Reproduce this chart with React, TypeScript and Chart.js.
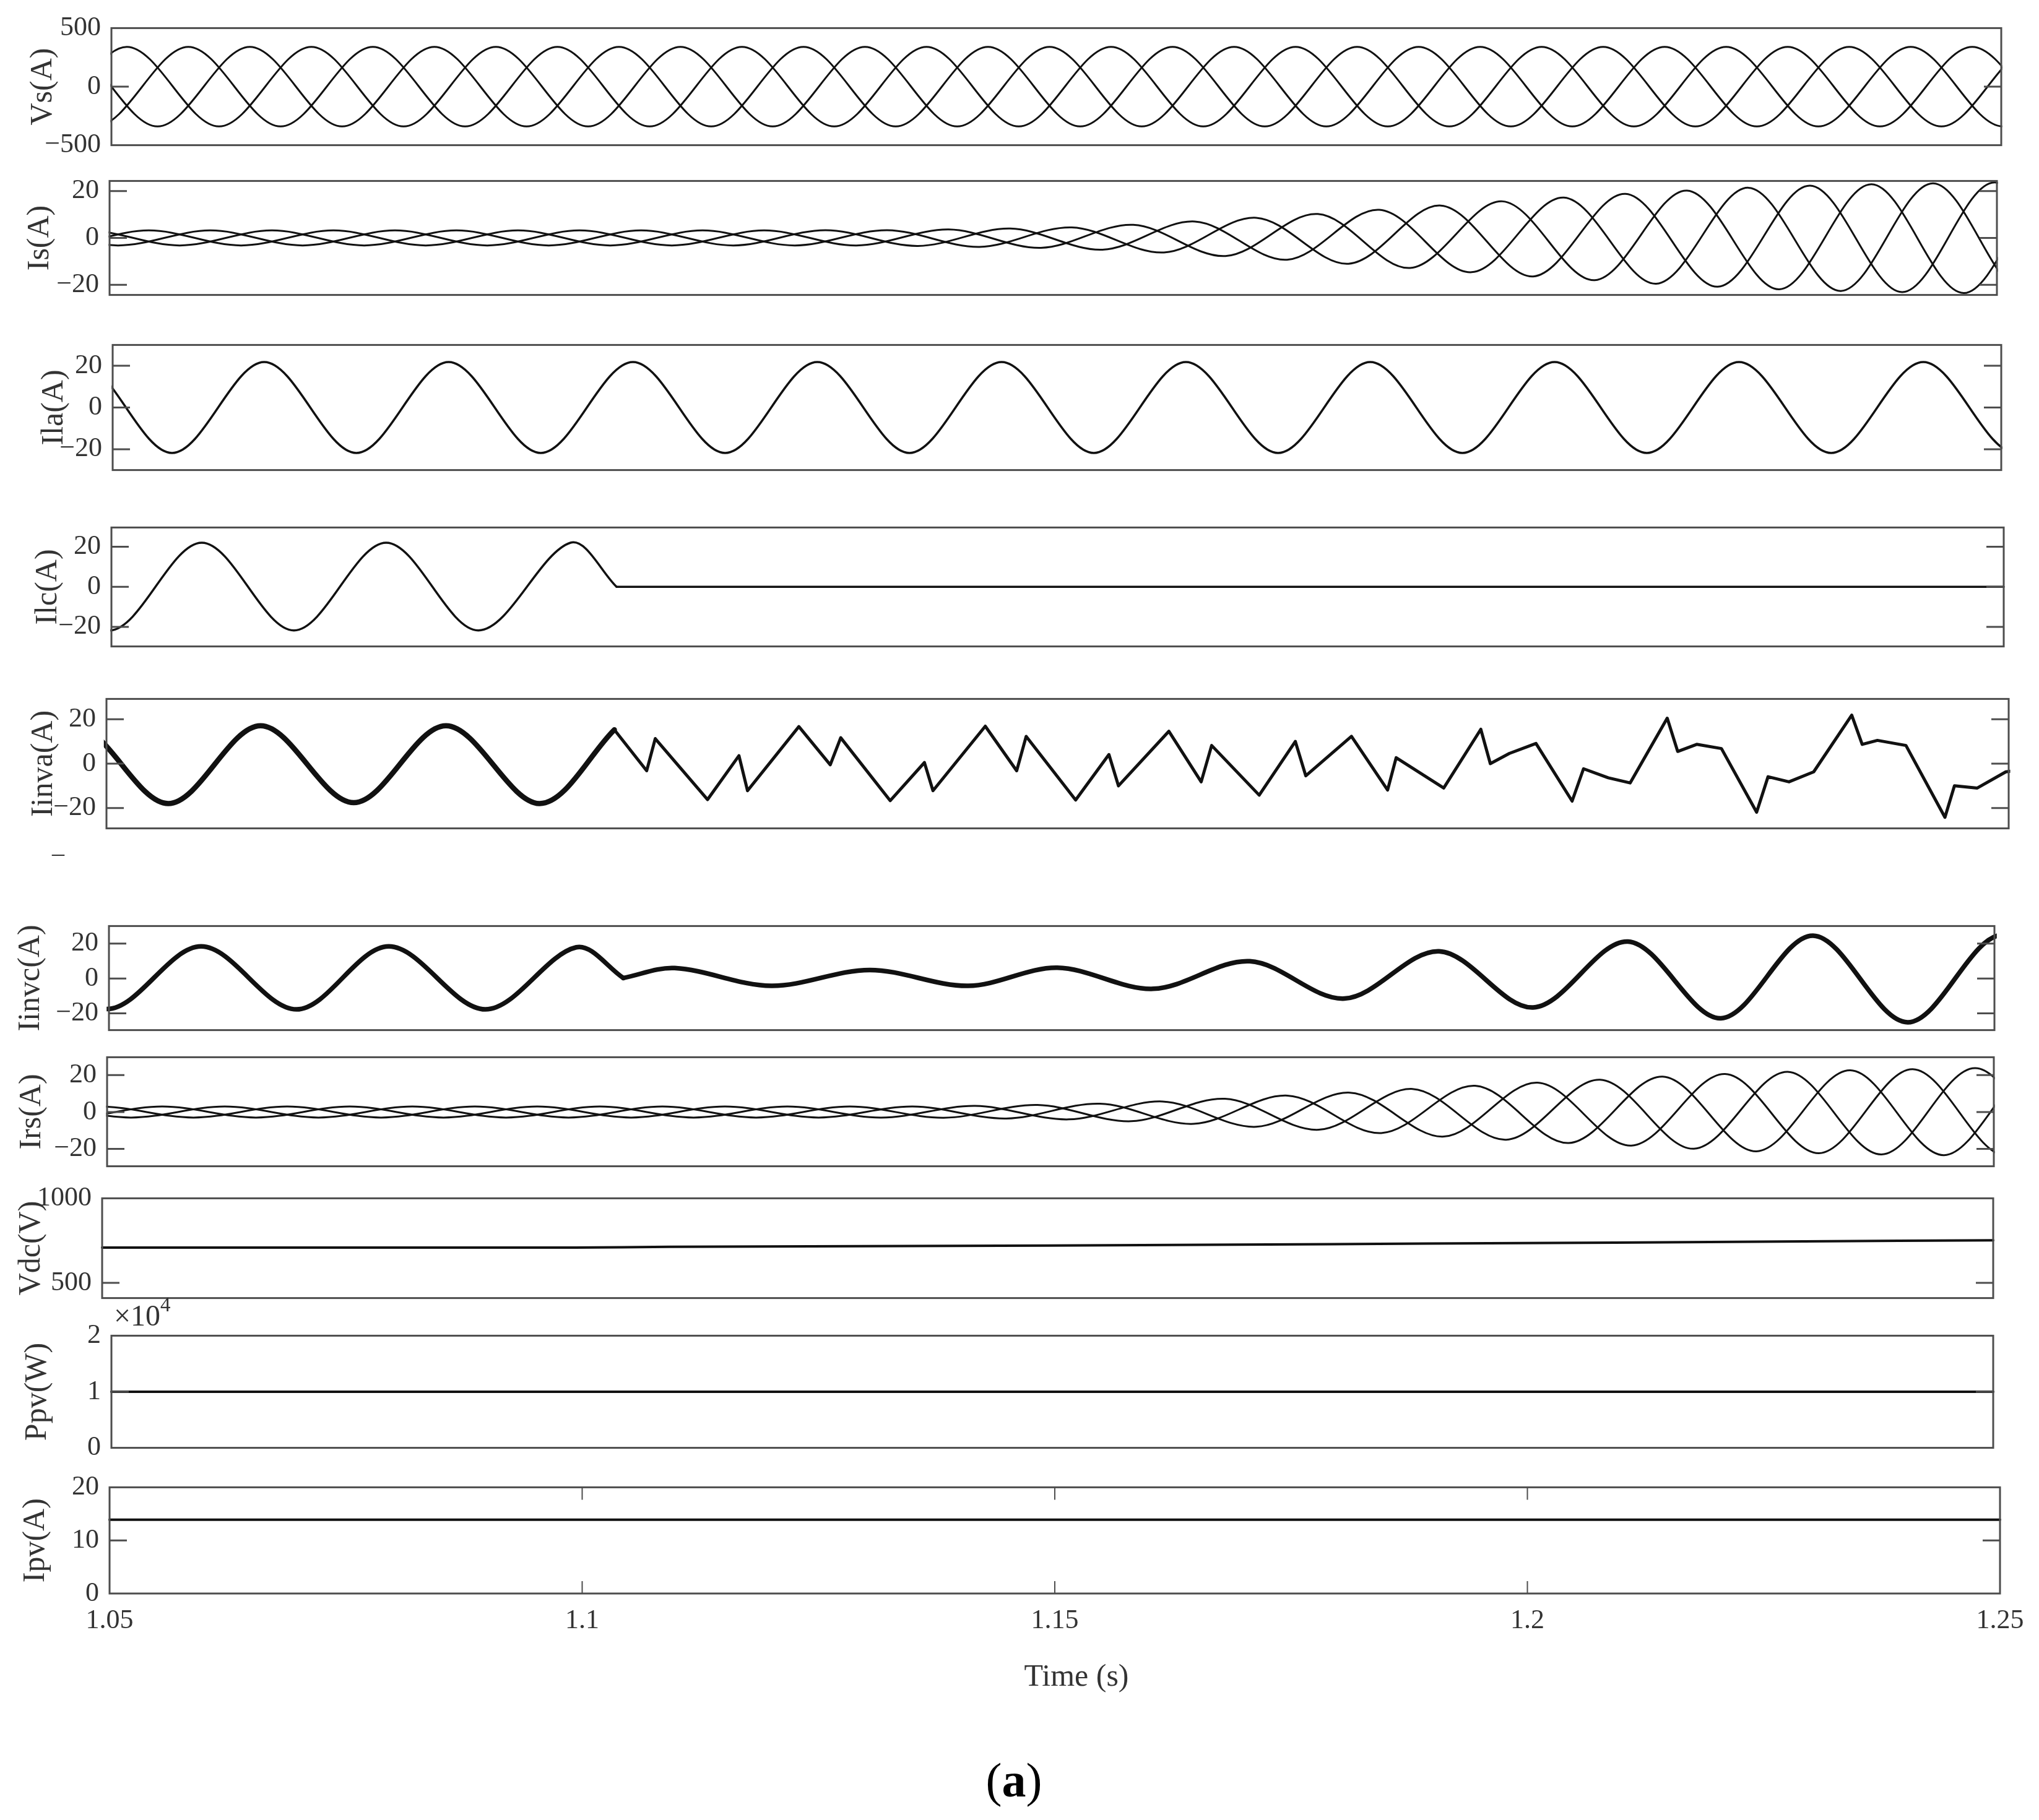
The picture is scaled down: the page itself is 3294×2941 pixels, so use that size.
import React, { useEffect, useRef } from "react";
import { Chart, registerables } from "chart.js";
Chart.register(...registerables);

const FONT = "'Liberation Serif', 'Times New Roman', serif";
const PAGE_W = 3294;
const PAGE_H = 2941;

// ---------------- data (time in s) ----------------
const timeTicks = [1.05, 1.1, 1.15, 1.2, 1.25];

// Vs : three phases, peaks / troughs
const vsTicks = [-500, 0, 500];
const vsAT = [1.03535, 1.04512, 1.05488, 1.06465, 1.07441, 1.08418, 1.09394, 1.10371, 1.11347, 1.12324, 1.133, 1.14277, 1.15253, 1.1623, 1.17206, 1.18183, 1.19159, 1.20136, 1.21112, 1.22089, 1.23065, 1.24042, 1.25018, 1.25995];
const vsAV = [-340, 340, -340, 340, -340, 340, -340, 340, -340, 340, -340, 340, -340, 340, -340, 340, -340, 340, -340, 340, -340, 340, -340, 340];
const vsBT = [1.0386, 1.04837, 1.05814, 1.0679, 1.07767, 1.08743, 1.0972, 1.10696, 1.11673, 1.12649, 1.13626, 1.14602, 1.15579, 1.16555, 1.17532, 1.18508, 1.19485, 1.20461, 1.21438, 1.22414, 1.23391, 1.24367, 1.25344, 1.26321];
const vsBV = [340, -340, 340, -340, 340, -340, 340, -340, 340, -340, 340, -340, 340, -340, 340, -340, 340, -340, 340, -340, 340, -340, 340, -340];
const vsCT = [1.03209, 1.04186, 1.05163, 1.06139, 1.07116, 1.08092, 1.09069, 1.10045, 1.11022, 1.11998, 1.12975, 1.13951, 1.14928, 1.15904, 1.16881, 1.17857, 1.18834, 1.1981, 1.20787, 1.21763, 1.2274, 1.23716, 1.24693, 1.25669, 1.26646];
const vsCV = [340, -340, 340, -340, 340, -340, 340, -340, 340, -340, 340, -340, 340, -340, 340, -340, 340, -340, 340, -340, 340, -340, 340, -340, 340];

// Is : three phases, growing envelope
const iTicks = [-20, 0, 20];
const isAT = [1.03786, 1.04764, 1.05742, 1.0672, 1.07698, 1.08676, 1.09654, 1.10632, 1.1161, 1.12588, 1.13566, 1.14544, 1.15522, 1.165, 1.17478, 1.18456, 1.19434, 1.20412, 1.2139, 1.22368, 1.23346, 1.24324, 1.25302, 1.2628];
const isAV = [-3.2, 3.2, -3.2, 3.2, -3.2, 3.2, -3.2, 3.2, -3.2, 3.3, -3.4, 4.0, -5.0, 7.0, -9.3, 12.0, -14.6, 17.2, -19.5, 21.4, -22.6, 23.3, -23.8, 24];
const isBT = [1.0346, 1.04438, 1.05416, 1.06394, 1.07372, 1.0835, 1.09328, 1.10306, 1.11284, 1.12262, 1.1324, 1.14218, 1.15196, 1.16174, 1.17152, 1.1813, 1.19108, 1.20086, 1.21064, 1.22042, 1.2302, 1.23998, 1.24976, 1.25954, 1.26932];
const isBV = [3.2, -3.2, 3.2, -3.2, 3.2, -3.2, 3.2, -3.2, 3.2, -3.2, 3.3, -3.8, 4.5, -6.2, 8.6, -11.0, 13.8, -16.4, 18.8, -20.8, 22.3, -23.1, 23.7, -23.8, 24];
const isCT = [1.03134, 1.04112, 1.0509, 1.06068, 1.07046, 1.08024, 1.09002, 1.0998, 1.10958, 1.11936, 1.12914, 1.13892, 1.1487, 1.15848, 1.16826, 1.17804, 1.18782, 1.1976, 1.20738, 1.21716, 1.22694, 1.23672, 1.2465, 1.25628, 1.26606];
const isCV = [-3.2, 3.2, -3.2, 3.2, -3.2, 3.2, -3.2, 3.2, -3.2, 3.2, -3.2, 3.6, -4.2, 5.6, -7.7, 10.2, -12.8, 15.6, -18.0, 20.2, -21.9, 22.9, -23.5, 23.8, -24];

// Ila
const ilaT = [1.03677, 1.04653, 1.05629, 1.06605, 1.07581, 1.08558, 1.09534, 1.1051, 1.11486, 1.12462, 1.13438, 1.14414, 1.1539, 1.16366, 1.17342, 1.18318, 1.19294, 1.2027, 1.21247, 1.22223, 1.23199, 1.24175, 1.25151, 1.26127];
const ilaV = [-21.8, 21.8, -21.8, 21.8, -21.8, 21.8, -21.8, 21.8, -21.8, 21.8, -21.8, 21.8, -21.8, 21.8, -21.8, 21.8, -21.8, 21.8, -21.8, 21.8, -21.8, 21.8, -21.8, 21.8];

// Ilc
const ilcT = [1.04006, 1.0498, 1.05955, 1.06929, 1.07904, 1.08878, 1.09852, 1.10339];
const ilcV = [22, -21.8, 22, -21.8, 22, -21.8, 22, 0];
const ilcFlatT = [1.10339, 1.25];
const ilcFlatV = [0, 0];

// Iinva
const iinvaSmoothT = [1.03696, 1.04673, 1.0565, 1.0662, 1.076, 1.0857, 1.0955, 1.1034];
const iinvaSmoothV = [-18, 17, -18, 17.1, -17.6, 17.1, -18, 15.3];
const iinvaT = [1.1034, 1.1068, 1.1077, 1.1132, 1.1165, 1.1174, 1.1228, 1.1261, 1.1272, 1.1324, 1.136, 1.1369, 1.1424, 1.1457, 1.1467, 1.1519, 1.1554, 1.1564, 1.1617, 1.1651, 1.1662, 1.1712, 1.175, 1.1761, 1.1809, 1.1847, 1.1856, 1.1906, 1.1945, 1.1955, 1.1975, 1.2003, 1.2041, 1.2053, 1.2079, 1.2102, 1.2141, 1.2152, 1.2172, 1.2198, 1.2235, 1.2247, 1.2269, 1.2295, 1.2335, 1.2346, 1.2362, 1.2392, 1.2433, 1.2443, 1.2467, 1.2497, 1.251];
const iinvaV = [15.3, -3.2, 11.3, -16.2, 3.6, -12.2, 16.7, -0.5, 11.7, -16.7, 0.5, -12.2, 16.9, -3.2, 12.3, -16.4, 4.1, -10, 14.6, -8.2, 8.2, -14.2, 10, -5.5, 12.3, -11.9, 2.7, -11, 15.5, 0, 4.6, 9.1, -16.9, -2.3, -6.4, -8.7, 20.5, 5.5, 8.7, 6.8, -21.9, -5.9, -8.2, -3.7, 21.9, 8.7, 10.5, 8.2, -24.2, -10, -11, -3.7, -3];

// Iinvc
const iinvc1T = [1.04, 1.0498, 1.05978, 1.0699, 1.07968, 1.08992, 1.09957, 1.10456];
const iinvc1V = [18, -17.5, 18.4, -17.7, 18.4, -17.7, 17.9, 0.3];
const iinvc2T = [1.10456, 1.11001, 1.12026, 1.1307, 1.14114, 1.15059, 1.16077, 1.17101, 1.18106, 1.1911, 1.20108, 1.21113, 1.22098, 1.23076, 1.24081, 1.25085, 1.2609];
const iinvc2V = [0.3, 6, -4.2, 4.9, -4.2, 6.2, -5.9, 9.9, -11.5, 15.6, -16.6, 21.2, -22.8, 24.6, -25.1, 25, -25];

// Irs
const irsAT = [1.03927, 1.04921, 1.05915, 1.06909, 1.07904, 1.08898, 1.09892, 1.10886, 1.1188, 1.12874, 1.13868, 1.14862, 1.15856, 1.1685, 1.17845, 1.18839, 1.19833, 1.20827, 1.21821, 1.22815, 1.23809, 1.24803, 1.25797, 1.26791];
const irsAV = [-3, 3, -3, 3, -3, 3, -3, 3, -3, 3, -3.1, 3.8, -5.0, 7.2, -9.6, 12.5, -15.0, 17.5, -19.9, 21.8, -23.0, 23.8, -24, 24];
const irsBT = [1.03596, 1.0459, 1.05584, 1.06578, 1.07572, 1.08566, 1.0956, 1.10555, 1.11549, 1.12543, 1.13537, 1.14531, 1.15525, 1.16519, 1.17513, 1.18507, 1.19501, 1.20495, 1.2149, 1.22484, 1.23478, 1.24472, 1.25466, 1.2646];
const irsBV = [3, -3, 3, -3, 3, -3, 3, -3, 3, -3, 3.0, -3.5, 4.5, -6.4, 8.9, -11.4, 14.2, -16.8, 19.2, -21.3, 22.6, -23.4, 24, -24];
const irsCT = [1.03265, 1.04259, 1.05253, 1.06247, 1.07241, 1.08235, 1.09229, 1.10223, 1.11217, 1.12211, 1.13205, 1.142, 1.15194, 1.16188, 1.17182, 1.18176, 1.1917, 1.20164, 1.21158, 1.22152, 1.23146, 1.2414, 1.25135, 1.26129];
const irsCV = [-3, 3, -3, 3, -3, 3, -3, 3, -3, 3, -3.0, 3.3, -4.0, 5.7, -8.0, 10.5, -13.3, 15.9, -18.2, 20.6, -22.3, 23.2, -23.8, 24];

// Vdc
const vdcTicks = [500, 1000];
const vdcT = [1.05, 1.1, 1.11, 1.13, 1.15, 1.17, 1.19, 1.21, 1.23, 1.25];
const vdcV = [709, 709, 713, 717, 721, 726, 732, 738, 745, 752];

// Ppv (x1e4) and Ipv
const ppvTicks = [0, 1, 2];
const ppvT = [1.05, 1.25];
const ppvV = [1, 1];
const ipvTicks = [0, 10, 20];
const ipvT = [1.05, 1.25];
const ipvV = [13.9, 13.9];

// ---------------- helpers ----------------
type Series = { t: number[]; v: number[]; tension: number; width: number };
type PanelCfg = {
  title: string; L: number; R: number; T: number; B: number; titleX: number;
  yMin: number; yMax: number; yTicks: number[]; series: Series[]; xAxis?: boolean;
};

const pts = (t: number[], v: number[]) => t.map((x, i) => ({ x, y: v[i] }));
const fmt = (v: number) => String(v).replace("-", "\u2212");

const framePlugin = {
  id: "panelFrame",
  afterDatasetsDraw(chart: any, _args: any, opts: any) {
    const { ctx, chartArea } = chart;
    const { left, right, top, bottom } = chartArea;
    ctx.save();
    ctx.strokeStyle = "#4d4d4d";
    ctx.lineWidth = 3;
    ctx.strokeRect(left, top, right - left, bottom - top);
    const y = chart.scales.y;
    ctx.beginPath();
    y.ticks.forEach((tk: any) => {
      const py = y.getPixelForValue(tk.value);
      if (py > top + 3 && py < bottom - 3) {
        ctx.moveTo(left, py); ctx.lineTo(left + 28, py);
        ctx.moveTo(right - 28, py); ctx.lineTo(right, py);
      }
    });
    ctx.stroke();
    if (opts && opts.xTicks) {
      const x = chart.scales.x;
      ctx.lineWidth = 2;
      ctx.beginPath();
      x.ticks.forEach((tk: any) => {
        const px = x.getPixelForValue(tk.value);
        if (px > left + 3 && px < right - 3) {
          ctx.moveTo(px, top); ctx.lineTo(px, top + 20);
          ctx.moveTo(px, bottom); ctx.lineTo(px, bottom - 20);
        }
      });
      ctx.stroke();
    }
    ctx.restore();
  },
};

function Panel(p: PanelCfg) {
  const ref = useRef<HTMLCanvasElement>(null);
  const padTop = 40;
  const padBottom = p.xAxis ? 0 : 40;
  const xH = p.xAxis ? 90 : 0;
  const canvasH = p.B - p.T + padTop + padBottom + xH;
  const padLeft = p.titleX - 30;
  useEffect(() => {
    const chart = new Chart(ref.current as HTMLCanvasElement, {
      type: "line",
      data: {
        datasets: p.series.map((s) => ({
          data: pts(s.t, s.v),
          borderColor: "#111",
          borderWidth: s.width,
          pointRadius: 0,
          tension: s.tension,
          capBezierPoints: false,
          fill: false,
          borderJoinStyle: "round",
          borderCapStyle: "round",
        })),
      },
      options: {
        animation: false,
        responsive: false,
        events: [],
        layout: { padding: { left: padLeft, right: PAGE_W - p.R, top: padTop, bottom: padBottom } },
        plugins: {
          legend: { display: false },
          tooltip: { enabled: false },
          panelFrame: { xTicks: !!p.xAxis },
        } as any,
        scales: {
          x: {
            type: "linear",
            bounds: "data",
            display: !!p.xAxis,
            grid: { display: false, drawTicks: false },
            border: { display: false },
            ticks: {
              autoSkip: false,
              maxRotation: 0,
              padding: 18,
              color: "#333",
              font: { family: FONT, size: 44 },
              callback: (v: any) => String(Math.round(Number(v) * 100) / 100),
            },
            afterDataLimits: (s: any) => { s.min = 1.05; s.max = 1.25; },
            afterBuildTicks: (s: any) => { s.ticks = timeTicks.map((v) => ({ value: v })); },
            afterFit: (s: any) => { s.height = xH; },
          },
          y: {
            type: "linear",
            min: p.yMin,
            max: p.yMax,
            grid: { display: false, drawTicks: false },
            border: { display: false },
            ticks: {
              autoSkip: false,
              padding: 17,
              color: "#333",
              font: { family: FONT, size: 44 },
              callback: (v: any) => fmt(Number(v)),
            },
            afterBuildTicks: (s: any) => { s.ticks = p.yTicks.map((v) => ({ value: v })); },
            afterFit: (s: any) => { s.width = p.L - padLeft; },
            title: {
              display: true,
              text: p.title,
              color: "#333",
              font: { family: FONT, size: 50 },
              padding: 0,
            },
          },
        },
      } as any,
      plugins: [framePlugin],
    });
    return () => chart.destroy();
  }, []);
  return (
    <canvas
      ref={ref}
      width={PAGE_W}
      height={canvasH}
      style={{ position: "absolute", left: 0, top: p.T - padTop, width: PAGE_W, height: canvasH }}
    />
  );
}

const S = (t: number[], v: number[], tension: number, width: number): Series => ({ t, v, tension, width });
const SM = 1 / 3;

const panels: PanelCfg[] = [
  { title: "Vs(A)", L: 180, R: 3233, T: 42, B: 238, titleX: 70, yMin: -500, yMax: 500, yTicks: vsTicks,
    series: [S(vsAT, vsAV, SM, 3), S(vsBT, vsBV, SM, 3), S(vsCT, vsCV, SM, 3)] },
  { title: "Is(A)", L: 177, R: 3226, T: 289, B: 480, titleX: 65, yMin: -24.3, yMax: 24.3, yTicks: iTicks,
    series: [S(isAT, isAV, SM, 3), S(isBT, isBV, SM, 3), S(isCT, isCV, SM, 3)] },
  { title: "Ila(A)", L: 182, R: 3233, T: 554, B: 763, titleX: 88, yMin: -30, yMax: 30, yTicks: iTicks,
    series: [S(ilaT, ilaV, SM, 3.5)] },
  { title: "Ilc(A)", L: 180, R: 3237, T: 849, B: 1048, titleX: 78, yMin: -29.8, yMax: 29.6, yTicks: iTicks,
    series: [S(ilcT, ilcV, SM, 3.5), S(ilcFlatT, ilcFlatV, 0, 3.5)] },
  { title: "Iinva(A)", L: 172, R: 3245, T: 1126, B: 1342, titleX: 71, yMin: -29.2, yMax: 29.2, yTicks: iTicks,
    series: [S(iinvaSmoothT, iinvaSmoothV, SM, 8.5), S(iinvaT, iinvaV, 0, 5)] },
  { title: "Iinvc(A)", L: 176, R: 3222, T: 1493, B: 1668, titleX: 50, yMin: -29.6, yMax: 30.1, yTicks: iTicks,
    series: [S(iinvc1T, iinvc1V, SM, 7.5), S(iinvc2T, iinvc2V, SM, 7.5)] },
  { title: "Irs(A)", L: 173, R: 3221, T: 1705, B: 1888, titleX: 52, yMin: -29.4, yMax: 29.7, yTicks: iTicks,
    series: [S(irsAT, irsAV, SM, 3), S(irsBT, irsBV, SM, 3), S(irsCT, irsCV, SM, 3)] },
  { title: "Vdc(V)", L: 165, R: 3220, T: 1933, B: 2101, titleX: 51, yMin: 410, yMax: 1000, yTicks: vdcTicks,
    series: [S(vdcT, vdcV, 0.2, 4)] },
  { title: "Ppv(W)", L: 180, R: 3220, T: 2155, B: 2343, titleX: 61, yMin: 0, yMax: 2, yTicks: ppvTicks,
    series: [S(ppvT, ppvV, 0, 4)] },
  { title: "Ipv(A)", L: 177, R: 3231, T: 2400, B: 2575, titleX: 58, yMin: 0, yMax: 20, yTicks: ipvTicks,
    series: [S(ipvT, ipvV, 0, 4)], xAxis: true },
];

const textStyle = (size: number, color = "#333"): React.CSSProperties => ({
  position: "absolute",
  fontFamily: FONT,
  fontSize: size,
  color,
  lineHeight: 1,
  whiteSpace: "nowrap",
});

export default function App() {
  return (
    <div style={{ position: "absolute", left: 0, top: 0, width: PAGE_W, height: PAGE_H, background: "#fff", overflow: "hidden" }}>
      {panels.map((p) => (
        <Panel key={p.title} {...p} />
      ))}
      <div style={{ ...textStyle(48), left: 184, top: 2102 }}>
        ×10<sup style={{ fontSize: 33, verticalAlign: "top", position: "relative", top: -10 }}>4</sup>
      </div>
      <div style={{ ...textStyle(40), left: 84, top: 1358 }}>–</div>
      <div style={{ ...textStyle(50), left: 1739, top: 2707, transform: "translate(-50%, -50%)" }}>Time (s)</div>
      <div style={{ ...textStyle(78, "#000"), left: 1638, top: 2877, transform: "translate(-50%, -50%)" }}>
        (<b>a</b>)
      </div>
    </div>
  );
}
